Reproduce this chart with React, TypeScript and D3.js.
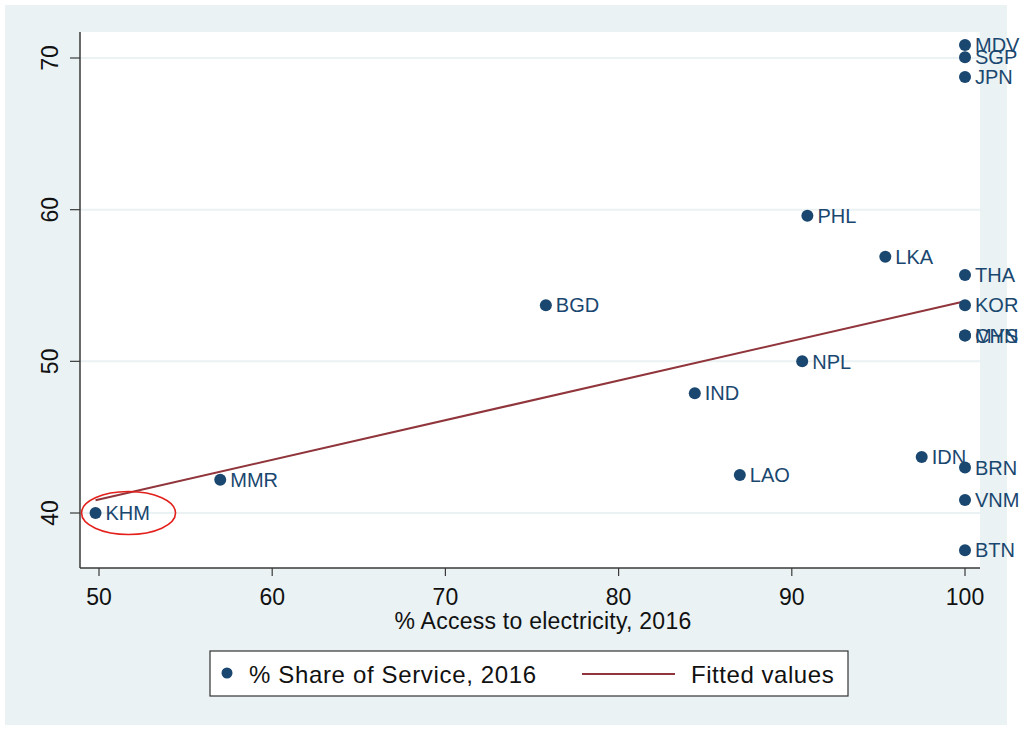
import React from "react";
import * as d3 from "d3";

// Country codes, access to electricity (%), share of services (%), 2016
const countries = ["KHM", "MMR", "BGD", "IND", "LAO", "NPL", "PHL", "LKA", "IDN", "MDV", "SGP", "JPN", "THA", "KOR", "MYS", "CHN", "BRN", "VNM", "BTN"];
const electricityAccess = [49.8, 57.0, 75.8, 84.4, 87.0, 90.6, 90.9, 95.4, 97.5, 100, 100, 100, 100, 100, 100, 100, 100, 100, 100];
const serviceShare = [40.0, 42.2, 53.7, 47.9, 42.5, 50.0, 59.6, 56.9, 43.7, 70.85, 70.05, 68.75, 55.7, 53.7, 51.7, 51.7, 43.0, 40.85, 37.55];

const xTicks = [50, 60, 70, 80, 90, 100];
const yTicks = [40, 50, 60, 70];

const highlighted = "KHM";

const W = 1023;
const H = 730;
const plot = { left: 80, right: 980, top: 32, bottom: 568 };

const navy = "#1a476f";
const maroon = "#90353b";
const bg = "#eaf2f3";
const font = "'Liberation Sans', Arial, sans-serif";

export default function App() {
  const x = d3.scaleLinear().domain([50, 100]).range([99, 965]);
  const y = d3.scaleLinear().domain([40, 70]).range([513, 58]);

  const points = countries.map((c, i) => ({ c, xv: electricityAccess[i], yv: serviceShare[i] }));

  // Ordinary least squares fit of share on access
  const mx = d3.mean(electricityAccess) as number;
  const my = d3.mean(serviceShare) as number;
  let sxy = 0;
  let sxx = 0;
  points.forEach((p) => {
    sxy += (p.xv - mx) * (p.yv - my);
    sxx += (p.xv - mx) * (p.xv - mx);
  });
  const slope = sxy / sxx;
  const intercept = my - slope * mx;
  const [xmin, xmax] = d3.extent(electricityAccess) as [number, number];
  const fitLine = d3
    .line<number>()
    .x((v) => x(v))
    .y((v) => y(intercept + slope * v));

  const hl = points.find((p) => p.c === highlighted)!;

  return (
    <svg
      width={W}
      height={H}
      style={{ position: "absolute", left: 0, top: 0, display: "block" }}
      fontFamily={font}
    >
      <rect x={0} y={0} width={W} height={H} fill="#ffffff" />
      <rect x={5} y={5} width={1002} height={720} fill={bg} />
      <rect x={plot.left} y={plot.top} width={plot.right - plot.left} height={plot.bottom - plot.top} fill="#ffffff" />

      {/* grid */}
      {yTicks.map((t) => (
        <line key={"g" + t} x1={plot.left} x2={plot.right} y1={y(t)} y2={y(t)} stroke={bg} strokeWidth={2} />
      ))}

      {/* y axis */}
      <line x1={plot.left} x2={plot.left} y1={plot.top} y2={plot.bottom} stroke="#3a3a3a" strokeWidth={1.5} />
      {yTicks.map((t) => (
        <g key={"y" + t}>
          <line x1={plot.left - 10} x2={plot.left} y1={y(t)} y2={y(t)} stroke="#3a3a3a" strokeWidth={1.2} />
          <text
            transform={`translate(58,${y(t)}) rotate(-90)`}
            textAnchor="middle"
            fontSize={23}
            fill="#111"
          >
            {t}
          </text>
        </g>
      ))}

      {/* x axis */}
      <line x1={plot.left} x2={plot.right} y1={plot.bottom} y2={plot.bottom} stroke="#3a3a3a" strokeWidth={1.5} />
      {xTicks.map((t) => (
        <g key={"x" + t}>
          <line x1={x(t)} x2={x(t)} y1={plot.bottom} y2={plot.bottom + 8} stroke="#3a3a3a" strokeWidth={1.2} />
          <text x={x(t)} y={605} textAnchor="middle" fontSize={23} fill="#111">
            {t}
          </text>
        </g>
      ))}
      <text
        x={(plot.left + plot.right) / 2 + 13}
        y={629}
        textAnchor="middle"
        fontSize={23}
        letterSpacing={0.25}
        fill="#111"
      >
        % Access to electricity, 2016
      </text>

      {/* fitted line */}
      <path d={fitLine([xmin, xmax]) || ""} fill="none" stroke={maroon} strokeWidth={2} />

      {/* points and labels */}
      {points.map((p) => (
        <g key={p.c}>
          <circle cx={x(p.xv)} cy={y(p.yv)} r={6} fill={navy} />
          <text x={x(p.xv) + 10} y={y(p.yv)} dy="0.36em" fontSize={20} fill={navy}>
            {p.c}
          </text>
        </g>
      ))}

      {/* highlight ring */}
      <ellipse cx={x(hl.xv) + 33} cy={y(hl.yv)} rx={47} ry={21.5} fill="none" stroke="#e3201b" strokeWidth={1.6} />

      {/* legend */}
      <rect x={210} y={651} width={638} height={45} fill="#ffffff" stroke="#333" strokeWidth={1.2} />
      <circle cx={227} cy={673} r={5.5} fill={navy} />
      <text x={249} y={683} fontSize={24} letterSpacing={0.65} fill="#111">
        % Share of Service, 2016
      </text>
      <line x1={582} x2={675} y1={674} y2={674} stroke={maroon} strokeWidth={2} />
      <text x={691} y={683} fontSize={24} letterSpacing={0.55} fill="#111">
        Fitted values
      </text>
    </svg>
  );
}
